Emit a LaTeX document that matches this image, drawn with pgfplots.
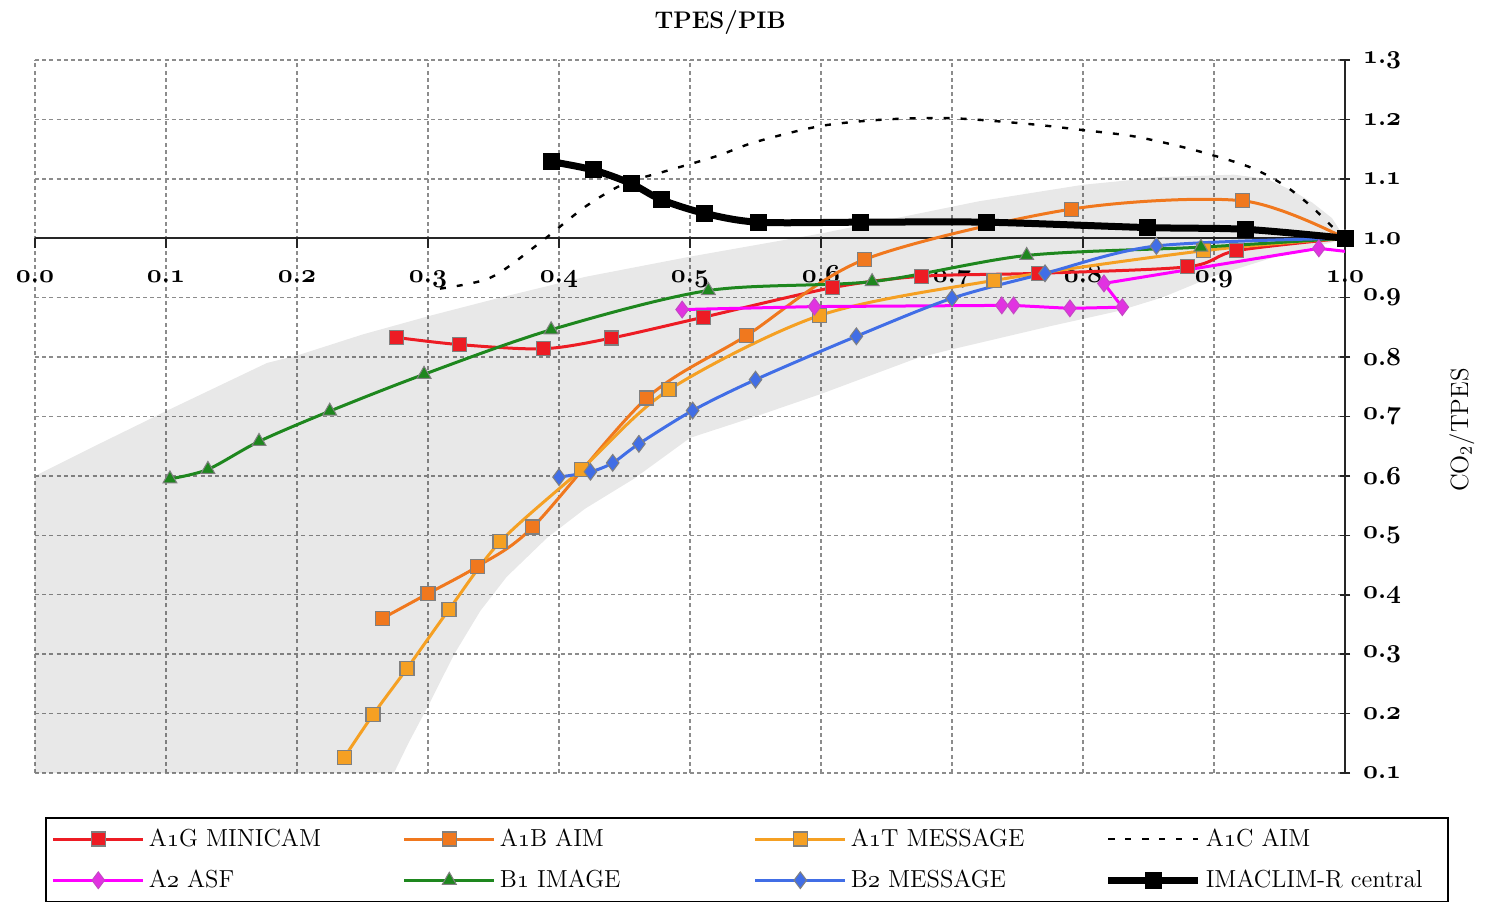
\documentclass[border=0pt]{standalone}
\usepackage{pgfplots}
\pgfplotsset{compat=1.18}
\DeclareFontFamily{OML}{cmmx}{\skewchar\font=127}
\DeclareFontShape{OML}{cmmx}{b}{it}{<->cmmib10}{}
\DeclareFontShape{OML}{cmmx}{m}{it}{<->cmmi10}{}
\newcommand{\obn}[1]{{\usefont{OML}{cmmx}{b}{it}#1}}
\newcommand{\on}[1]{{\usefont{OML}{cmmx}{m}{it}#1}}
\newcommand{\tl}[2]{{\bfseries\obn{#1}.\obn{#2}}}
\newcommand{\lt}[1]{\makebox[125pt][l]{#1}}
\newcommand{\ltl}[1]{\makebox[116pt][l]{#1}}
\definecolor{cA1G}{RGB}{237,28,36}
\definecolor{cA1B}{RGB}{240,120,30}
\definecolor{cA1T}{RGB}{245,160,35}
\definecolor{cA2}{RGB}{255,0,255}
\definecolor{cA2m}{RGB}{225,50,225}
\definecolor{cB1}{RGB}{30,135,30}
\definecolor{cB2}{RGB}{65,110,230}
\definecolor{gridc}{RGB}{140,140,140}
\begin{document}
\begin{tikzpicture}
\begin{axis}[
  name=ax,
  scale only axis, width=655pt, height=356.5pt,
  xmin=0, xmax=1, ymin=0.1, ymax=1.3,
  axis x line*=bottom, axis y line*=right,
  axis x line shift=-267.375pt,
  axis line style={line width=1pt, black!85},
  xtick={0,0.1,0.2,0.3,0.4,0.5,0.6,0.7,0.8,0.9,1},
  xticklabels={\tl00,\tl01,\tl02,\tl03,\tl04,\tl05,\tl06,\tl07,\tl08,\tl09,\tl10},
  ytick={0.1,0.2,0.3,0.4,0.5,0.6,0.7,0.8,0.9,1.0,1.1,1.2,1.3},
  yticklabels={\tl01,\tl02,\tl03,\tl04,\tl05,\tl06,\tl07,\tl08,\tl09,\tl10,\tl11,\tl12,\tl13},
  xtick align=outside, ytick align=center,
  major tick length=5pt,
  tick style={line width=0.8pt, black!85},
  ticklabel style={font=\fontsize{13}{15}\selectfont},
  xticklabel style={anchor=base, yshift=-17pt},
  yticklabel style={anchor=west, xshift=3pt},
  grid=major,
  grid style={dash pattern=on 2pt off 1.6pt, gridc, line width=0.7pt},
  title={TPES/PIB},
  title style={font=\bfseries\fontsize{12}{14}\selectfont, at={(rel axis cs:0.523,1)}, anchor=base, yshift=9.8pt},
  ylabel={CO\textsubscript{2}/TPES},
  ylabel style={font=\fontsize{12.5}{14}\selectfont, at={(rel axis cs:1.0893,0.481)}, anchor=center},
  legend columns=4,
  legend cell align=left,
  legend image code/.code={\draw[mark repeat=2,mark phase=2,#1] plot coordinates {(0pt,0pt) (22.5pt,0pt) (45pt,0pt)};},
  legend style={at={(rel axis cs:0,0)}, anchor=north west, xshift=5pt, yshift=-22pt,
    draw=black, line width=0.8pt,
    font=\fontsize{12.3}{14}\selectfont,
    inner xsep=3pt, inner ysep=3.5pt, row sep=6.3pt,
    /tikz/every odd column/.append style={column sep=0pt}},
  clip=false,
]
% grey band
\addplot[draw=none, fill=black, fill opacity=0.09, forget plot] coordinates {
 (0,0.6) (0.05,0.655) (0.1,0.709) (0.177,0.79) (0.202,0.804) (0.25,0.838) (0.304,0.871)
 (0.355,0.9) (0.42,0.935) (0.5,0.969) (0.6,1.008) (0.72,1.062) (0.8,1.09) (0.86,1.103)
 (0.915,1.107) (0.94,1.1) (0.96,1.08) (0.975,1.06) (0.99,1.034) (1.0,1.0)
 (0.99,0.993) (0.953,0.973) (0.902,0.938) (0.86,0.9) (0.826,0.877) (0.775,0.852)
 (0.698,0.812) (0.673,0.798) (0.6,0.738) (0.55,0.70) (0.5,0.664) (0.457,0.595)
 (0.42,0.545) (0.391,0.496) (0.36,0.43) (0.34,0.373) (0.32,0.3) (0.302,0.221)
 (0.285,0.15) (0.274,0.1) (0,0.1)} --cycle;
% A1G MINICAM
\addplot[cA1G, line width=1.5pt, smooth, tension=0.5, mark=square*, mark size=3.5pt,
  mark options={fill=cA1G, draw=gray, line width=0.6pt, solid}] coordinates {
 (1,1) (0.917,0.979) (0.880,0.952) (0.766,0.941) (0.677,0.936) (0.609,0.917)
 (0.510,0.867) (0.440,0.832) (0.388,0.814) (0.324,0.821) (0.276,0.833)};
\addlegendentry{\lt{A\on{1}G MINICAM}}
% A1B AIM
\addplot[cA1B, line width=1.5pt, smooth, tension=0.5, mark=square*, mark size=3.5pt,
  mark options={fill=cA1B, draw=gray, line width=0.6pt, solid}] coordinates {
 (1,1) (0.922,1.063) (0.791,1.049) (0.633,0.964) (0.543,0.836) (0.467,0.731)
 (0.380,0.514) (0.338,0.448) (0.300,0.402) (0.265,0.360)};
\addlegendentry{\lt{A\on{1}B AIM}}
% A1T MESSAGE
\addplot[cA1T, line width=1.5pt, smooth, tension=0.5, mark=square*, mark size=3.5pt,
  mark options={fill=cA1T, draw=gray, line width=0.6pt, solid}] coordinates {
 (1,1) (0.892,0.979) (0.732,0.929) (0.599,0.870) (0.484,0.745) (0.417,0.611)
 (0.355,0.489) (0.316,0.375) (0.284,0.276) (0.258,0.198) (0.236,0.126)};
\addlegendentry{\lt{A\on{1}T MESSAGE}}
% A1C AIM
\addplot[black, line width=1.2pt, smooth, tension=0.5, dash pattern=on 3pt off 5.5pt] coordinates {
 (1.0,1.0) (0.99,1.02) (0.973,1.056) (0.953,1.09) (0.927,1.12) (0.884,1.149) (0.84,1.171)
 (0.80,1.182) (0.76,1.192) (0.70,1.202) (0.65,1.200) (0.6,1.189) (0.55,1.162) (0.52,1.138)
 (0.48,1.112) (0.45,1.092) (0.42,1.053) (0.384,0.99) (0.347,0.933) (0.305,0.914)};
\addlegendentry{\ltl{A\on{1}C AIM}}
% A2 ASF
\addplot[cA2, line width=1.5pt, mark=diamond*, mark size=4.2pt,
  mark options={fill=cA2m, draw=cA2m!70!gray, line width=0.5pt, solid}] coordinates {
 (0.980,0.983) (0.816,0.924) (0.830,0.884) (0.790,0.882) (0.747,0.887) (0.738,0.887) (0.595,0.885) (0.494,0.880)};
\addlegendentry{\lt{A\on{2} ASF}}
% B1 IMAGE
\addplot[cB1, line width=1.5pt, smooth, tension=0.5, mark=triangle*, mark size=4pt,
  mark options={fill=cB1, draw=gray, line width=0.5pt, solid}] coordinates {
 (1,1) (0.890,0.985) (0.757,0.971) (0.639,0.927) (0.514,0.912) (0.394,0.846)
 (0.297,0.771) (0.225,0.709) (0.171,0.658) (0.132,0.611) (0.103,0.595)};
\addlegendentry{\lt{B\on{1} IMAGE}}
% B2 MESSAGE
\addplot[cB2, line width=1.5pt, smooth, tension=0.5, mark=diamond*, mark size=4.2pt,
  mark options={fill=cB2, draw=gray, line width=0.5pt, solid}] coordinates {
 (1,1) (0.856,0.987) (0.771,0.941) (0.700,0.899) (0.627,0.835) (0.550,0.762)
 (0.502,0.710) (0.461,0.654) (0.441,0.622) (0.424,0.607) (0.400,0.598)};
\addlegendentry{\lt{B\on{2} MESSAGE}}
% A2 stub
\addplot[cA2, line width=1.5pt, forget plot] coordinates {(0.98,0.983) (1.0,0.978)};
% IMACLIM-R central
\addplot[black, line width=3.5pt, smooth, tension=0.5, mark=square*, mark size=4pt,
  mark options={fill=black, line width=0.5pt, solid}] coordinates {
 (1,1) (0.924,1.015) (0.849,1.018) (0.726,1.027) (0.630,1.027) (0.552,1.027)
 (0.511,1.042) (0.478,1.065) (0.455,1.092) (0.426,1.115) (0.394,1.129)};
\addlegendentry{\ltl{IMACLIM-R central}}
\end{axis}
\pgfresetboundingbox
\path ([xshift=-17.5pt,yshift=-66pt]ax.south west) rectangle ([xshift=70.5pt,yshift=30pt]ax.north east);
\end{tikzpicture}
\end{document}
